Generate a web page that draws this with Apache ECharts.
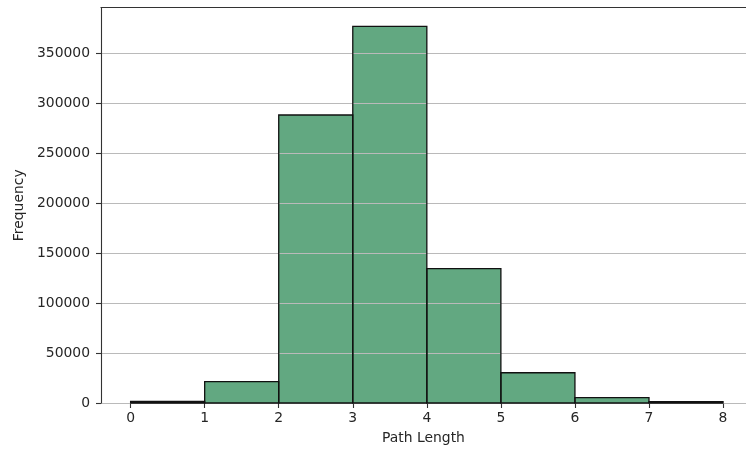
<!DOCTYPE html>
<html>
<head>
<meta charset="utf-8">
<script src="https://cdn.jsdelivr.net/npm/echarts@6/dist/echarts.min.js"></script>
<style>html,body{margin:0;padding:0;background:#fff;}#c{width:746px;height:450px;}</style>
</head>
<body>
<div id="c"></div>
<script>
const binEdges = [0, 1, 2, 3, 4, 5, 6, 7, 8];
const counts = [1500, 21500, 288400, 377200, 134500, 30300, 5400, 1400];
const xTicks = [0, 1, 2, 3, 4, 5, 6, 7, 8];
const yTicks = [0, 50000, 100000, 150000, 200000, 250000, 300000, 350000];
const xLabel = 'Path Length';
const yLabel = 'Frequency';

const data = counts.map((c, i) => [binEdges[i], binEdges[i + 1], c]);
const font = 'DejaVu Sans';
const textColor = '#262626';
const spine = '#333333';

function rectItem(fill, stroke, lw) {
  return function (params, api) {
    const x0 = api.value(0), x1 = api.value(1), y = api.value(2);
    const p0 = api.coord([x0, y]);
    const p1 = api.coord([x1, 0]);
    return {
      type: 'rect',
      shape: { x: p0[0], y: p0[1], width: p1[0] - p0[0], height: p1[1] - p0[1] },
      style: { fill: fill, stroke: stroke, lineWidth: lw }
    };
  };
}

const chart = echarts.init(document.getElementById('c'), null, { renderer: 'canvas' });
chart.setOption({
  animation: false,
  backgroundColor: '#ffffff',
  grid: { left: 101, right: 0, top: 7.5, bottom: 45.3, show: false },
  xAxis: [{
    type: 'value', min: -0.4, max: 8.31,
    name: xLabel, nameLocation: 'middle', nameGap: 28,
    nameTextStyle: { fontFamily: font, fontSize: 13.9, color: textColor },
    axisLine: { show: true, onZero: false, lineStyle: { color: spine, width: 1.1 } },
    axisTick: { show: true, length: 5, lineStyle: { color: spine, width: 1.1 }, customValues: xTicks },
    axisLabel: { fontFamily: font, fontSize: 13.9, color: textColor, margin: 8, customValues: xTicks },
    splitLine: { show: false }
  }, {
    type: 'value', min: -0.4, max: 8.31, position: 'top',
    axisLine: { show: true, onZero: false, lineStyle: { color: spine, width: 1.1 } },
    axisTick: { show: false }, axisLabel: { show: false }, splitLine: { show: false }
  }],
  yAxis: {
    type: 'value', min: 0, max: Math.max(...counts) * 1.05, interval: 50000,
    name: yLabel, nameLocation: 'middle', nameGap: 74,
    nameTextStyle: { fontFamily: font, fontSize: 13.9, color: textColor },
    z: 2,
    axisLine: { show: true, onZero: false, lineStyle: { color: spine, width: 1.1 } },
    axisTick: { show: true, length: 5, lineStyle: { color: spine, width: 1.1 }, customValues: yTicks },
    axisLabel: { fontFamily: font, fontSize: 13.9, color: textColor, margin: 11, customValues: yTicks,
      formatter: v => String(v) },
    splitLine: { show: true, lineStyle: { color: '#bababa', width: 1.1 } }
  },
  series: [
    {
      type: 'custom', z: 1,
      renderItem: rectItem('rgba(46,139,87,0.75)', null, 0),
      encode: { x: [0, 1], y: 2 },
      data: data
    },
    {
      type: 'custom', z: 3,
      renderItem: rectItem(null, '#111111', 1.3),
      encode: { x: [0, 1], y: 2 },
      data: data
    }
  ]
});
</script>
</body>
</html>
